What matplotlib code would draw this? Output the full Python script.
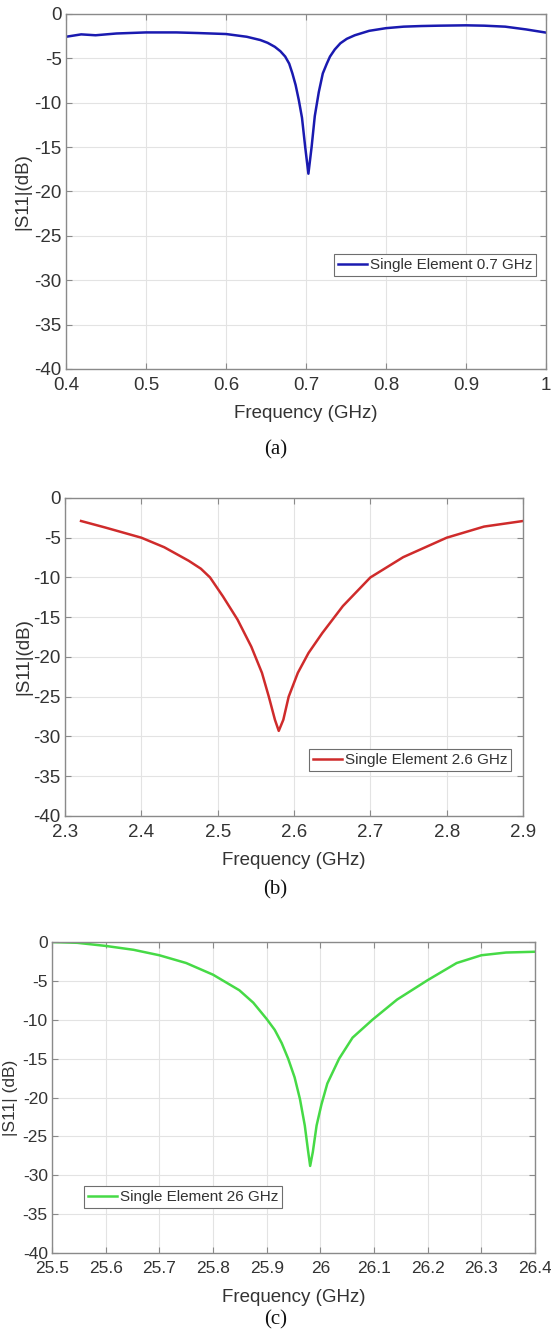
import numpy as np
import matplotlib
matplotlib.use("Agg")
import matplotlib.pyplot as plt

plt.rcParams['font.family'] = ['Liberation Sans', 'DejaVu Sans']

# |S11| readings for the three single-element antennas
freq_a = [0.400, 0.419, 0.437, 0.463, 0.500, 0.538, 0.565, 0.600, 0.626, 0.643,
          0.652, 0.661, 0.668, 0.674, 0.679, 0.683, 0.687, 0.691, 0.695, 0.699,
          0.703, 0.707, 0.711, 0.716, 0.721, 0.726, 0.730, 0.736, 0.743, 0.751,
          0.761, 0.779, 0.800, 0.822, 0.844, 0.866, 0.900, 0.923, 0.949, 0.975,
          1.000]
s11_a = [-2.57, -2.30, -2.40, -2.20, -2.08, -2.08, -2.15, -2.26, -2.57, -2.94,
         -3.25, -3.70, -4.20, -4.80, -5.60, -6.70, -8.00, -9.70, -11.7, -15.0,
         -18.0, -15.0, -11.5, -8.80, -6.70, -5.60, -4.80, -4.00, -3.30, -2.80,
         -2.40, -1.90, -1.60, -1.43, -1.36, -1.32, -1.28, -1.32, -1.43, -1.74,
         -2.10]

freq_b = [2.321, 2.352, 2.400, 2.430, 2.462, 2.478, 2.490, 2.507, 2.526, 2.544,
          2.558, 2.567, 2.575, 2.580, 2.586, 2.593, 2.605, 2.619, 2.637, 2.664,
          2.700, 2.743, 2.800, 2.849, 2.900]
s11_b = [-2.9, -3.7, -5.0, -6.2, -7.9, -8.9, -10.0, -12.4, -15.3, -18.7,
         -22.0, -25.0, -27.9, -29.3, -27.9, -25.0, -22.0, -19.5, -17.0, -13.6,
         -10.0, -7.45, -5.0, -3.6, -2.9]

freq_c = [25.500, 25.547, 25.600, 25.652, 25.700, 25.750, 25.800, 25.849, 25.875,
          25.900, 25.915, 25.928, 25.940, 25.952, 25.962, 25.971, 25.977, 25.981,
          25.986, 25.993, 26.002, 26.013, 26.035, 26.060, 26.097, 26.143, 26.200,
          26.254, 26.300, 26.346, 26.400]
s11_c = [0.0, -0.1, -0.5, -1.0, -1.7, -2.7, -4.2, -6.2, -7.8,
         -9.9, -11.3, -13.0, -15.0, -17.4, -20.2, -23.6, -26.8, -28.8,
         -27.0, -23.6, -20.9, -18.2, -15.0, -12.3, -10.0, -7.4, -4.9,
         -2.7, -1.7, -1.35, -1.25]

xticks_a = [0.4, 0.5, 0.6, 0.7, 0.8, 0.9, 1.0]
xticklabels_a = ['0.4', '0.5', '0.6', '0.7', '0.8', '0.9', '1']
xticks_b = [2.3, 2.4, 2.5, 2.6, 2.7, 2.8, 2.9]
xticklabels_b = ['2.3', '2.4', '2.5', '2.6', '2.7', '2.8', '2.9']
xticks_c = [25.5, 25.6, 25.7, 25.8, 25.9, 26.0, 26.1, 26.2, 26.3, 26.4]
xticklabels_c = ['25.5', '25.6', '25.7', '25.8', '25.9', '26', '26.1', '26.2', '26.3', '26.4']
yticks = [0, -5, -10, -15, -20, -25, -30, -35, -40]

TXT = '#333333'
EDGE = '#8a8a8a'

fig = plt.figure(figsize=(5.51, 13.30), dpi=100)

panels = [
    dict(rect=[0.1198, 0.7226, 0.8711, 0.2669], x=freq_a, y=s11_a, color='#1a1ab0',
         xlim=(0.4, 1.0), xt=xticks_a, xtl=xticklabels_a, ylab='|S11|(dB)',
         leg='Single Element 0.7 GHz', loc='center right', anchor=(0.98, 0.293),
         ylx=-0.072, xly=-0.101, cap='(a)', capy=450, fs=13.5),
    dict(rect=[0.1180, 0.3865, 0.8312, 0.2391], x=freq_b, y=s11_b, color='#cf2b2b',
         xlim=(2.3, 2.9), xt=xticks_b, xtl=xticklabels_b, ylab='|S11|(dB)',
         leg='Single Element 2.6 GHz', loc='center right', anchor=(0.974, 0.176),
         ylx=-0.072, xly=-0.113, cap='(b)', capy=890, fs=13.5),
    dict(rect=[0.0944, 0.0579, 0.8766, 0.2338], x=freq_c, y=s11_c, color='#46da46',
         xlim=(25.5, 26.4), xt=xticks_c, xtl=xticklabels_c, ylab='|S11| (dB)',
         leg='Single Element 26 GHz', loc='lower left', anchor=(0.066, 0.145),
         ylx=-0.070, xly=-0.116, cap='(c)', capy=1320, fs=12.5),
]

for p in panels:
    ax = fig.add_axes(p['rect'])
    ax.plot(p['x'], p['y'], color=p['color'], lw=1.8, label=p['leg'])
    ax.set_xlim(*p['xlim'])
    ax.set_ylim(-40, 0)
    ax.set_xticks(p['xt'])
    ax.set_xticklabels(p['xtl'])
    ax.set_yticks(yticks)
    ax.set_yticklabels([str(v) for v in yticks])
    ax.grid(True, color='#e3e3e3', lw=0.8)
    ax.set_axisbelow(True)
    for s in ax.spines.values():
        s.set_color(EDGE)
        s.set_linewidth(1.0)
    ax.tick_params(direction='in', length=4, width=0.8, color=EDGE,
                   top=True, right=True, labelsize=p['fs'], labelcolor=TXT)
    ax.tick_params(axis='x', pad=6)
    ax.tick_params(axis='y', pad=3)
    ax.set_ylabel(p['ylab'], fontsize=p['fs'], color=TXT)
    ax.yaxis.set_label_coords(p['ylx'], 0.5)
    ax.set_xlabel('Frequency (GHz)', fontsize=13.5, color=TXT)
    ax.xaxis.set_label_coords(0.5, p['xly'])
    leg = ax.legend(loc=p['loc'], bbox_to_anchor=p['anchor'], borderaxespad=0,
                    fontsize=11, handlelength=1.9, handletextpad=0.2,
                    borderpad=0.25, fancybox=False, framealpha=1)
    leg.get_frame().set_edgecolor('#6e6e6e')
    leg.get_frame().set_linewidth(0.8)
    for t in leg.get_texts():
        t.set_color(TXT)
    fig.text(0.5, 1 - p['capy'] / 1330, p['cap'], ha='center', va='center',
             fontsize=15, family=['Liberation Serif', 'DejaVu Serif'], color='#111111')

fig.savefig('out.png', dpi=100)
